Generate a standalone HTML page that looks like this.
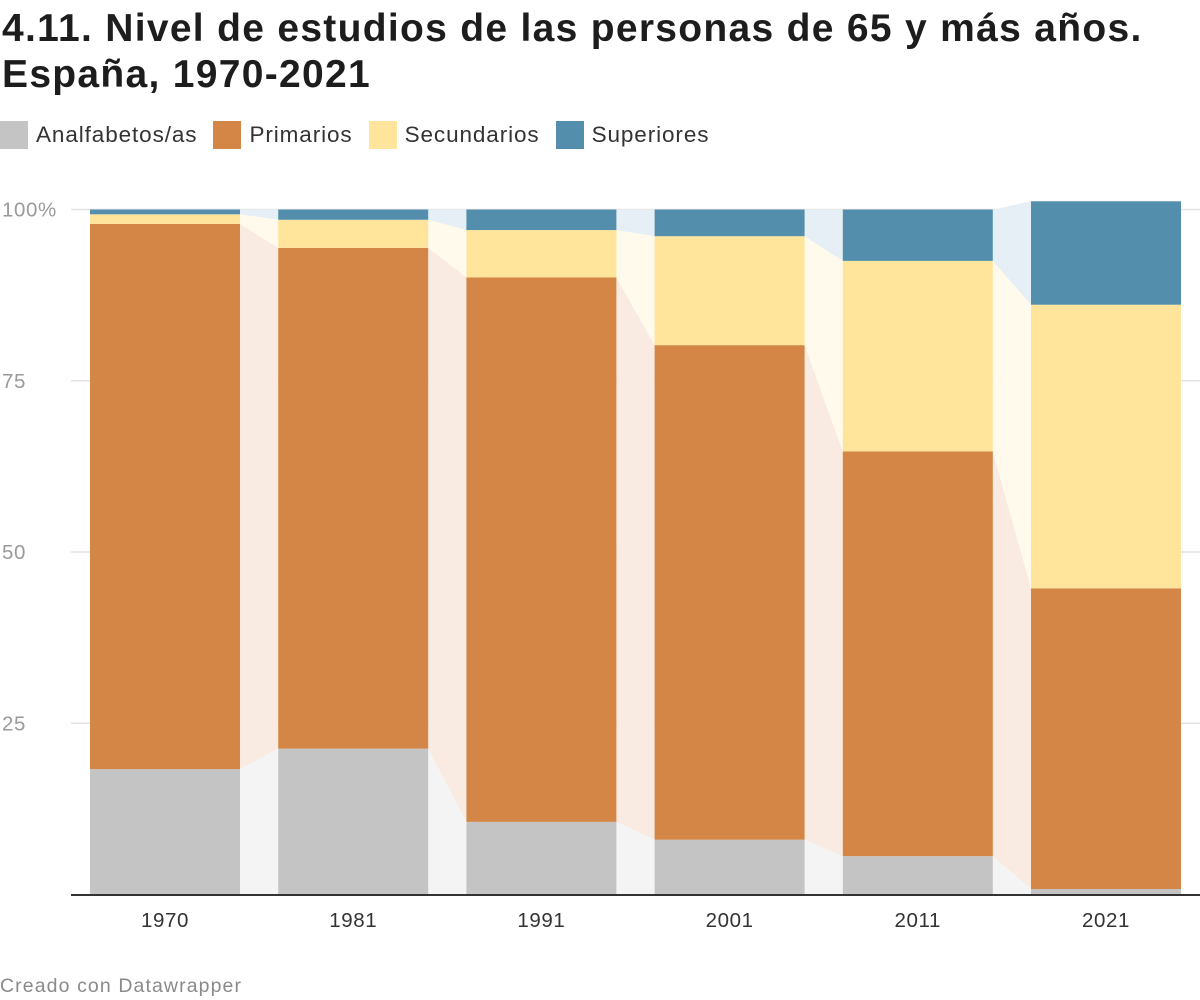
<!DOCTYPE html>
<html><head><meta charset="utf-8"><style>
body{margin:0;width:1200px;height:1000px;background:#fff;font-family:"Liberation Sans",sans-serif;position:relative;overflow:hidden}
h1{position:absolute;left:2px;top:6px;margin:0;font-size:39px;line-height:46px;font-weight:bold;color:#1d1d1d;letter-spacing:1.3px;white-space:nowrap}
.legend{position:absolute;left:0;top:121px;display:flex;font-size:22.5px;color:#333;letter-spacing:0.9px}
.li{display:flex;align-items:center;margin-right:16px}
.sw{width:28px;height:28px;margin-right:8px}
.foot{position:absolute;left:0;top:975px;font-size:19.5px;color:#8a8a8a;letter-spacing:1.1px}
svg{position:absolute;left:0;top:0}
</style></head><body>
<h1>4.11. Nivel de estudios de las personas de 65 y más años.<br>España, 1970-2021</h1>
<div class="legend">
<div class="li"><div class="sw" style="background:#c4c4c4"></div>Analfabetos/as</div>
<div class="li"><div class="sw" style="background:#d38645"></div>Primarios</div>
<div class="li"><div class="sw" style="background:#fee59b"></div>Secundarios</div>
<div class="li"><div class="sw" style="background:#538fad"></div>Superiores</div>
</div>
<svg id="chart" width="1200" height="1000"></svg>
<div class="foot">Creado con Datawrapper</div>
<script>
const categories=["1970","1981","1991","2001","2011","2021"];
const analfabetos=[18.3,21.3,10.6,8.0,5.6,0.8];
const primarios=[79.6,73.1,79.5,72.2,59.1,43.9];
const secundarios=[1.4,4.1,6.9,15.9,27.8,41.4];
const superiores=[0.7,1.5,3.0,3.9,7.5,15.1];
const yTicks=[0,25,50,75,100];
const yTickLabels=["","25","50","75","100%"];

const NS="http://www.w3.org/2000/svg";
const svg=document.getElementById('chart');
const y0=894.5,pxPer=6.85;
const y=v=>y0-v*pxPer;
const barX=i=>90+i*188.2, barW=150;
const series=[analfabetos,primarios,secundarios,superiores];
const colors=["#c4c4c4","#d38645","#fee59b","#538fad"];
const tints=["#f4f4f4","#f9ebe2","#fffaeb","#e6eff5"];
const sNames=["analfabetos","primarios","secundarios","superiores"];
function mk(t,a){const e=document.createElementNS(NS,t);for(const k in a)e.setAttribute(k,a[k]);svg.appendChild(e);return e;}
yTicks.forEach((t,i)=>{
  if(t>0){const g=mk('line',{x1:71,x2:1200,y1:y(t),y2:y(t),stroke:'#e3e3e3','stroke-width':1.5});
  
  }
  const tx=mk('text',{x:2,y:y(t)+7,'font-size':20.5,fill:'#9a9a9a','letter-spacing':'0.6'});tx.textContent=yTickLabels[i];
  
  
});
const cum=categories.map((_,i)=>{let c=[0];series.forEach(s=>c.push(c[c.length-1]+s[i]));return c;});
for(let i=0;i<categories.length-1;i++){
  for(let s=0;s<4;s++){
    const xa=barX(i)+barW,xb=barX(i+1);
    const p=mk('polygon',{points:`${xa},${y(cum[i][s])} ${xa},${y(cum[i][s+1])} ${xb},${y(cum[i+1][s+1])} ${xb},${y(cum[i+1][s])}`,fill:tints[s]});
    
    
  }
}
categories.forEach((c,i)=>{
  for(let s=0;s<4;s++){
    const r=mk('rect',{x:barX(i),y:y(cum[i][s+1]),width:barW,height:series[s][i]*pxPer,fill:colors[s]});
    
    
  }
  const t=mk('text',{x:barX(i)+barW/2,y:927,'font-size':20.5,fill:'#333','text-anchor':'middle','letter-spacing':'0.6'});t.textContent=c;
  
  
});
const ax=mk('line',{x1:71,x2:1200,y1:895,y2:895,stroke:'#333','stroke-width':2});


</script>
</body></html>
